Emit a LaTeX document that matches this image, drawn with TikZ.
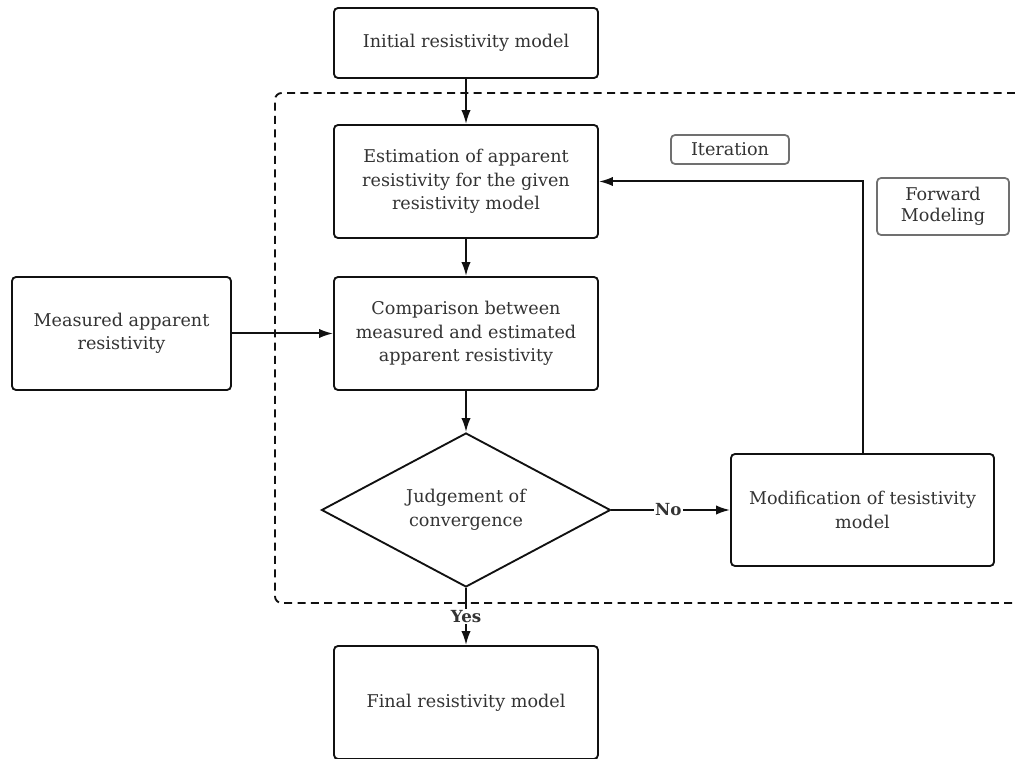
\documentclass[tikz,border=0pt]{standalone}
\usepackage{fontspec}
\setmainfont{DejaVu Serif}
\usetikzlibrary{arrows.meta,shapes.geometric}
\definecolor{ink}{HTML}{333333}
\definecolor{frame}{HTML}{111111}
\definecolor{tagframe}{HTML}{707070}
\tikzset{
  px/.style={x=0.75pt,y=-0.75pt},
  stepbox/.style={draw=frame,line width=1.4pt,rounded corners=3pt,fill=white,
    text=ink,align=center,font=\fontsize{13.2}{17.6}\selectfont,inner sep=0pt},
  decide/.style={draw=frame,line width=1.4pt,diamond,aspect=1.88,fill=white,
    text=ink,align=center,font=\fontsize{13.2}{17.6}\selectfont,inner sep=0pt,
    minimum width=216.75pt,minimum height=115.5pt},
  tag/.style={draw=tagframe,line width=1.3pt,rounded corners=3pt,fill=white,
    text=ink,align=center,font=\fontsize{13.2}{16}\selectfont,inner sep=0pt},
  flow/.style={draw=frame,line width=1.5pt,-{Latex[length=10.5pt,width=7pt]}},
  answer/.style={font=\bfseries\fontsize{12.5}{14}\selectfont,text=ink,fill=white,inner sep=1pt},
}
\begin{document}
\begin{tikzpicture}[px]
\useasboundingbox (0,0) rectangle (1015,759);
% dashed forward-modeling frame (open on the right)
\draw[frame,line width=1.4pt,dash pattern=on 6pt off 4pt,rounded corners=5pt]
  (1015,93) -- (275,93) -- (275,603) -- (1015,603);
% process boxes
\node[stepbox,minimum width=198pt,minimum height=52.5pt] (init) at (466,43) {Initial resistivity model};
\node[stepbox,minimum width=198pt,minimum height=84.75pt] (est) at (466,181.5)
  {Estimation of apparent\\resistivity for the given\\resistivity model};
\node[stepbox,minimum width=198pt,minimum height=84.75pt] (cmp) at (466,333.5)
  {Comparison between\\measured and estimated\\apparent resistivity};
\node[stepbox,minimum width=164.25pt,minimum height=84.75pt] (meas) at (121.5,333.5)
  {Measured apparent\\resistivity};
\node[decide] (judge) at (466,510) {Judgement of\\convergence};
\node[stepbox,minimum width=197.25pt,minimum height=84pt] (mod) at (862.5,510)
  {Modification of tesistivity\\model};
\node[stepbox,minimum width=198pt,minimum height=84.75pt] (final) at (466,702.5)
  {Final resistivity model};
% labels
\node[tag,minimum width=88.5pt,minimum height=21.75pt] (iter) at (730,149.5) {Iteration};
\node[tag,minimum width=99pt,minimum height=42.75pt] (fwd) at (943,206.5) {Forward\\Modeling};
% connectors
\draw[flow] (init.south) -- (est.north);
\draw[flow] (est.south) -- (cmp.north);
\draw[flow] (cmp.south) -- (judge.north);
\draw[flow] (meas.east) -- (cmp.west);
\draw[flow] (judge.east) -- node[answer,pos=0.48] {No} (mod.west);
\coordinate (turn) at (mod.north |- est.east);
\draw[flow] (mod.north) -- (turn) -- (est.east);
\draw[flow] (judge.south) -- node[answer,pos=0.5] {Yes} (final.north);
\end{tikzpicture}
\end{document}
